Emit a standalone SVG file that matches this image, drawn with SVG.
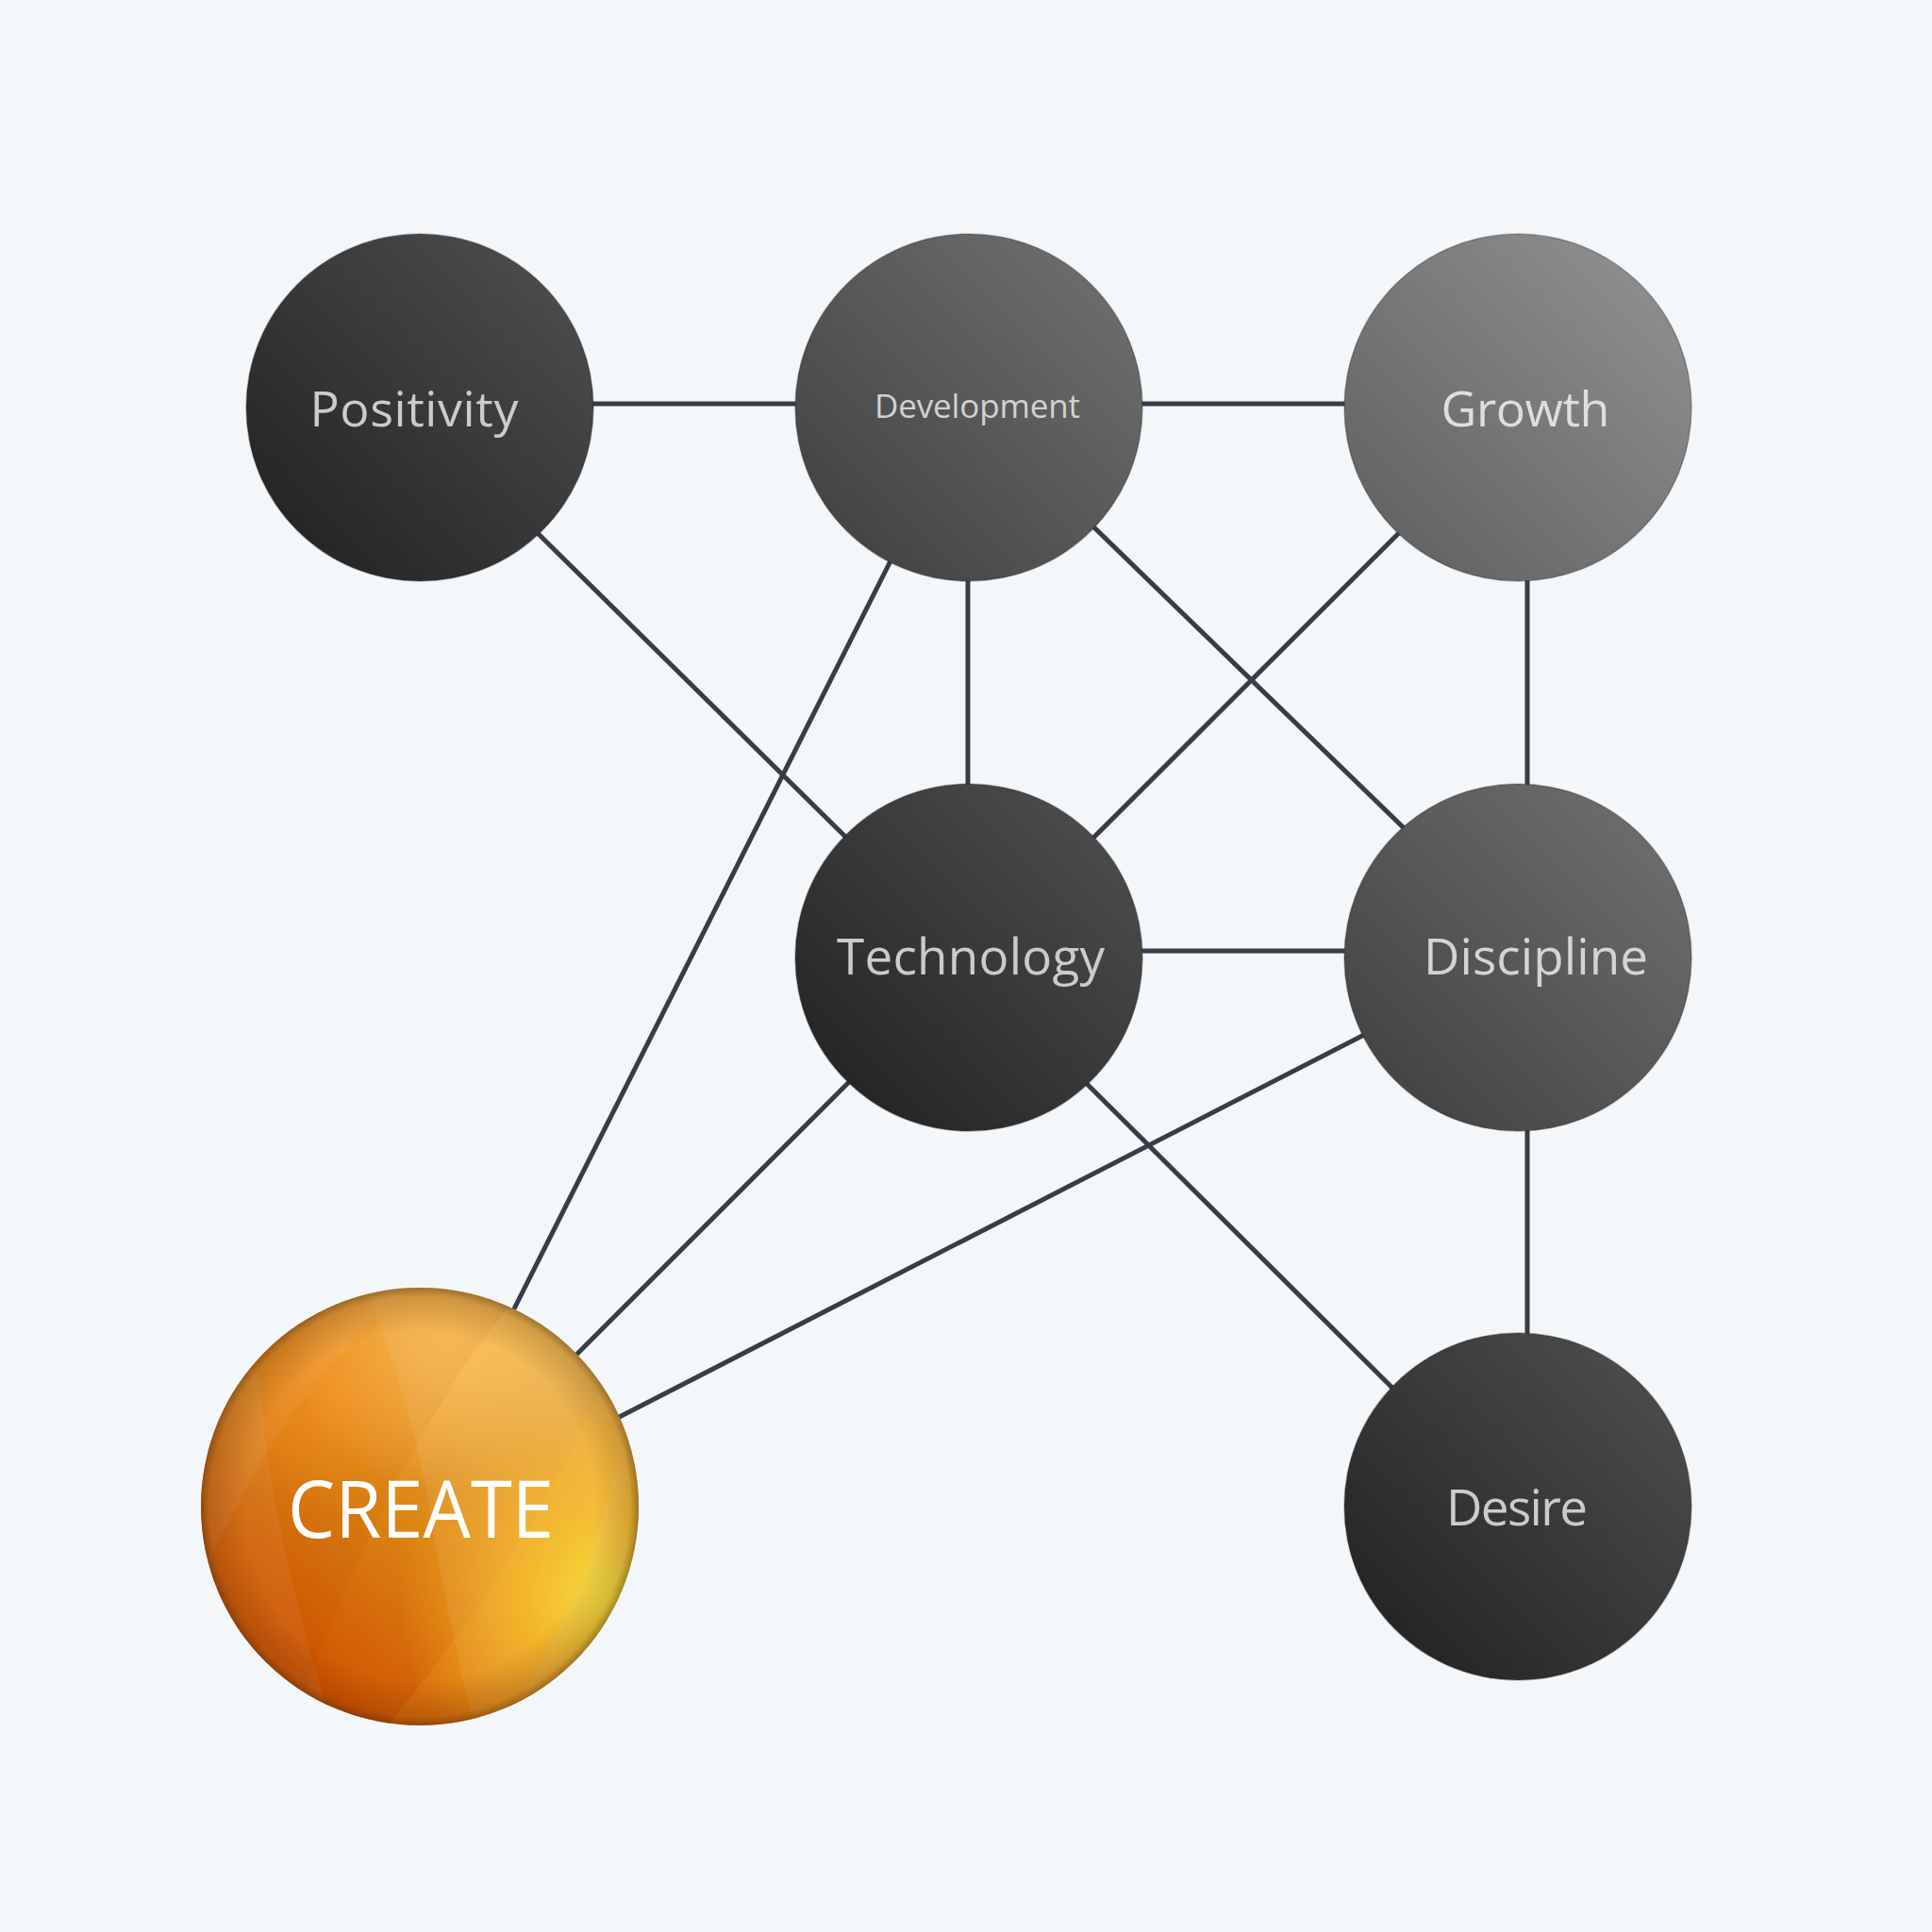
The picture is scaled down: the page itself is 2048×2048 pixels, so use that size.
<svg xmlns="http://www.w3.org/2000/svg" width="2048" height="2048" viewBox="0 0 2048 2048">
<defs>
<style>
.edge{stroke:#363d47;stroke-width:5;fill:none;stroke-linecap:butt}
.lbl{font-family:"Open Sans","Noto Sans","Liberation Sans",sans-serif;text-anchor:middle;fill:#cbcbcb}
.rim{fill:none;stroke:#222;stroke-opacity:0.35;stroke-width:1.5}
</style>
<linearGradient id="gDark" x1="0.15" y1="0.85" x2="0.85" y2="0.15">
<stop offset="0" stop-color="#262626"/><stop offset="1" stop-color="#4a4a4a"/>
</linearGradient>
<linearGradient id="gMid" x1="0.15" y1="0.85" x2="0.85" y2="0.15">
<stop offset="0" stop-color="#454545"/><stop offset="1" stop-color="#6b6b6b"/>
</linearGradient>
<linearGradient id="gLight" x1="0.15" y1="0.85" x2="0.85" y2="0.15">
<stop offset="0" stop-color="#656565"/><stop offset="1" stop-color="#8c8c8c"/>
</linearGradient>
<linearGradient id="gCreate" x1="0.2" y1="0.85" x2="0.8" y2="0.1">
<stop offset="0" stop-color="#d25400"/><stop offset="0.45" stop-color="#dc8615"/><stop offset="1" stop-color="#eab850"/>
</linearGradient>
<radialGradient id="gYellow" cx="0.95" cy="0.72" r="0.5">
<stop offset="0" stop-color="#f4ea2c" stop-opacity="1"/><stop offset="0.45" stop-color="#fcc420" stop-opacity="0.6"/><stop offset="1" stop-color="#ffb020" stop-opacity="0"/>
</radialGradient>
<radialGradient id="gHi" cx="0.55" cy="0.12" r="0.35">
<stop offset="0" stop-color="#ffc050" stop-opacity="0.85"/><stop offset="1" stop-color="#ffc050" stop-opacity="0"/>
</radialGradient>
<radialGradient id="gOr" cx="0.3" cy="0.22" r="0.3">
<stop offset="0" stop-color="#ff9420" stop-opacity="0.75"/><stop offset="1" stop-color="#ff9420" stop-opacity="0"/>
</radialGradient>
<radialGradient id="gVig" cx="0.5" cy="0.5" r="0.5">
<stop offset="0.8" stop-color="#5a2a00" stop-opacity="0"/><stop offset="0.96" stop-color="#5a2a00" stop-opacity="0.22"/><stop offset="1" stop-color="#3a1a00" stop-opacity="0.45"/>
</radialGradient>
<clipPath id="cCreate"><circle cx="445" cy="1597" r="232"/></clipPath>
</defs>
<rect width="2048" height="2048" fill="#f3f7fa"/>
<g id="connectors">
<line class="edge" x1="445" y1="428" x2="1027" y2="428"/>
<line class="edge" x1="1027" y1="428" x2="1609" y2="428"/>
<line class="edge" x1="1027" y1="1008" x2="1609" y2="1008"/>
<line class="edge" x1="1026" y1="432" x2="1026" y2="1015"/>
<line class="edge" x1="1619" y1="432" x2="1619" y2="1015"/>
<line class="edge" x1="1619" y1="1015" x2="1619" y2="1597"/>
<line class="edge" x1="520" y1="516" x2="950" y2="940"/>
<line class="edge" x1="970" y1="543" x2="520" y2="1437"/>
<line class="edge" x1="1100" y1="501" x2="1540" y2="928"/>
<line class="edge" x1="1540" y1="508" x2="1100" y2="947"/>
<line class="edge" x1="960" y1="1087" x2="560" y2="1487"/>
<line class="edge" x1="1100" y1="1097" x2="1530" y2="1525"/>
<line class="edge" x1="1520" y1="1059" x2="600" y2="1531"/>
</g>
<g id="node-positivity">
<circle cx="445" cy="432" r="184" fill="url(#gDark)"/><circle class="rim" cx="445" cy="432" r="184"/>
<text class="lbl" x="439" y="452" font-size="52" textLength="221" lengthAdjust="spacing">Positivity</text>
</g>
<g id="node-development">
<circle cx="1027" cy="432" r="184" fill="url(#gMid)"/><circle class="rim" cx="1027" cy="432" r="184"/>
<text class="lbl" x="1036" y="443" font-size="35" textLength="218" lengthAdjust="spacing" style="fill:#d2d2d2">Development</text>
</g>
<g id="node-growth">
<circle cx="1609" cy="432" r="184" fill="url(#gLight)"/><circle class="rim" cx="1609" cy="432" r="184"/>
<text class="lbl" x="1617" y="452" font-size="52" textLength="179" lengthAdjust="spacing" style="fill:#dedede">Growth</text>
</g>
<g id="node-technology">
<circle cx="1027" cy="1015" r="184" fill="url(#gDark)"/><circle class="rim" cx="1027" cy="1015" r="184"/>
<text class="lbl" x="1029" y="1033" font-size="53" textLength="284" lengthAdjust="spacing">Technology</text>
</g>
<g id="node-discipline">
<circle cx="1609" cy="1015" r="184" fill="url(#gMid)"/><circle class="rim" cx="1609" cy="1015" r="184"/>
<text class="lbl" x="1628" y="1033" font-size="53" textLength="238" lengthAdjust="spacing" style="fill:#d4d4d4">Discipline</text>
</g>
<g id="node-desire">
<circle cx="1609" cy="1597" r="184" fill="url(#gDark)"/><circle class="rim" cx="1609" cy="1597" r="184"/>
<text class="lbl" x="1608" y="1617" font-size="53" textLength="150" lengthAdjust="spacing">Desire</text>
</g>
<g id="node-create">
<circle cx="445" cy="1597" r="232" fill="url(#gCreate)"/>
<g clip-path="url(#cCreate)">
<rect x="213" y="1365" width="464" height="464" fill="url(#gOr)"/>
<rect x="213" y="1365" width="464" height="464" fill="url(#gHi)"/>
<rect x="213" y="1365" width="464" height="464" fill="url(#gYellow)"/>
<path d="M385 1360 Q440 1500 455 1600 Q475 1720 505 1840 L700 1840 L700 1360 Z" fill="#ffffff" fill-opacity="0.07"/>
<path d="M273 1440 Q285 1620 347 1810 L200 1840 L200 1440 Z" fill="#ffffff" fill-opacity="0.06"/>
<path d="M440 1360 Q310 1460 220 1660 L200 1360 Z" fill="#ffffff" fill-opacity="0.06"/>
<path d="M640 1465 Q560 1650 410 1830 L700 1840 L700 1465 Z" fill="#ffd030" fill-opacity="0.12"/>
<path d="M662 1520 Q620 1700 545 1810 L700 1840 Z" fill="#ffffff" fill-opacity="0.06"/>
<path d="M560 1360 Q420 1520 310 1830 L200 1840 L200 1360 Z" fill="#a03a00" fill-opacity="0.06"/>
<rect x="213" y="1365" width="464" height="464" fill="url(#gVig)"/>
</g>
<text x="446" y="1630" font-family="Open Sans, Noto Sans, Liberation Sans, sans-serif" font-size="84" text-anchor="middle" fill="#ffffff" textLength="282" lengthAdjust="spacingAndGlyphs">CREATE</text>
</g>
</svg>
